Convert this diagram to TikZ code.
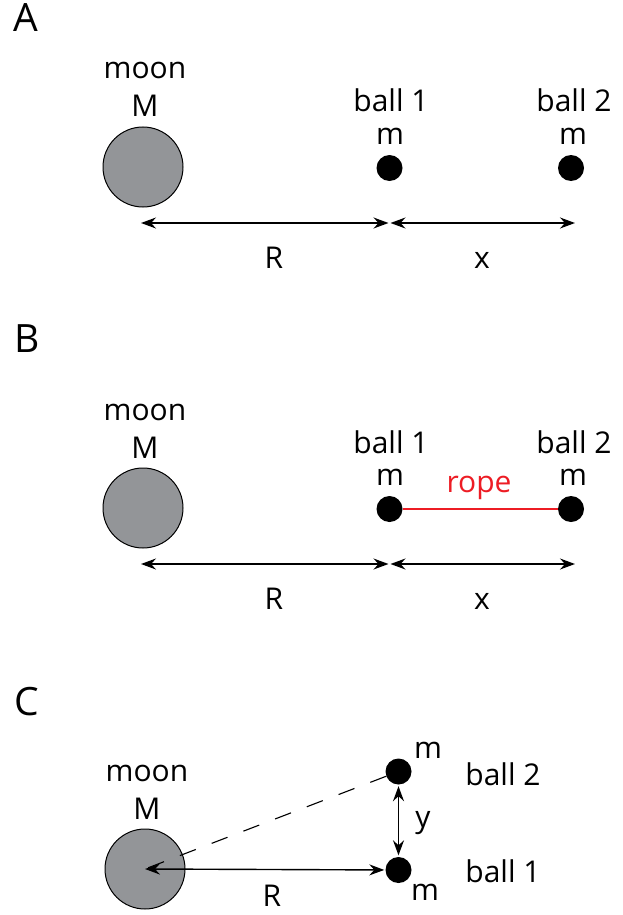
\documentclass[tikz,border=0pt]{standalone}
\usepackage{fontspec}
\setmainfont{Open Sans}
\usetikzlibrary{arrows.meta}
\definecolor{moongray}{RGB}{147,149,152}
\definecolor{ropered}{RGB}{237,28,36}

\begin{document}
\begin{tikzpicture}[x=1pt, y=-1pt,
  moonbody/.style={circle, draw=black, line width=1pt, fill=moongray,
    minimum size=80pt, inner sep=0pt},
  massball/.style={circle, fill=black, minimum size=26pt, inner sep=0pt},
  dimarrow/.style={{Stealth[length=15pt,width=11pt,inset=5pt]}-{Stealth[length=15pt,width=11pt,inset=5pt]},
    line width=1.4pt},
  ropeline/.style={draw=ropered, line width=1.2pt},
  guide/.style={dash pattern=on 17pt off 17pt, line width=1.1pt},
  lbl/.style={font=\fontsize{30}{36}\selectfont, anchor=base, inner sep=0pt},
  panel/.style={font=\fontsize{39}{46}\selectfont, anchor=base west, inner sep=0pt},
]
\useasboundingbox (0,0) rectangle (622,915);

% === Panel A: two free balls ===
\node[panel] (labA) at (13,32) {A};
\node[moonbody] (moonA) at (143,167) {};
\node[massball] (ballA1) at (389.5,168) {};
\node[massball] (ballA2) at (571,168) {};
\node[lbl] (moonA-name) at (145,79) {moon};
\node[lbl] (moonA-mass) at (145,117) {M};
\node[lbl] (ballA1-name) at (391,112) {ball 1};
\node[lbl] (ballA1-mass) at (390,144) {m};
\node[lbl] (ballA2-name) at (574,112) {ball 2};
\node[lbl] (ballA2-mass) at (573,144) {m};

\coordinate (dimA0) at (141,223);
\coordinate (dimA1) at (389.5,223);
\coordinate (dimA2) at (575,223);
\draw[dimarrow, shorten >=1pt] (dimA0) -- (dimA1);
\draw[dimarrow, shorten <=1pt] (dimA1) -- (dimA2);
\node[lbl] (distA-R) at (274,268) {R};
\node[lbl] (distA-x) at (482,268) {x};

% === Panel B: balls tied by a rope ===
\node[panel] (labB) at (14,352) {B};
\node[moonbody] (moonB) at (143,508) {};
\node[massball] (ballB1) at (389.5,509) {};
\node[massball] (ballB2) at (571,509) {};
\node[lbl] (moonB-name) at (145,420) {moon};
\node[lbl] (moonB-mass) at (145,458) {M};
\node[lbl] (ballB1-name) at (391,453) {ball 1};
\node[lbl] (ballB1-mass) at (390,485) {m};
\node[lbl] (ballB2-name) at (574,453) {ball 2};
\node[lbl] (ballB2-mass) at (573,485) {m};

\draw[ropeline] (ballB1) -- (ballB2);
\node[lbl, text=ropered] (ropeB) at (479,492) {rope};

\coordinate (dimB0) at (141,564);
\coordinate (dimB1) at (389.5,564);
\coordinate (dimB2) at (575,564);
\draw[dimarrow, shorten >=1pt] (dimB0) -- (dimB1);
\draw[dimarrow, shorten <=1pt] (dimB1) -- (dimB2);
\node[lbl] (distB-R) at (274,609) {R};
\node[lbl] (distB-x) at (482,609) {x};

% === Panel C: balls stacked across the line ===
\node[panel] (labC) at (14,715) {C};
\node[moonbody] (moonC) at (145,869) {};
\node[massball] (ballC2) at (398.5,771.5) {};
\node[massball] (ballC1) at (398.5,870) {};
\node[lbl] (moonC-name) at (147,781) {moon};
\node[lbl] (moonC-mass) at (147,819) {M};
\node[lbl] (ballC2-mass) at (428,758) {m};
\node[lbl] (ballC2-name) at (503,785) {ball 2};
\node[lbl] (ballC1-name) at (503,882) {ball 1};
\node[lbl] (ballC1-mass) at (425,900) {m};

\draw[guide] (ballC2) -- (moonC.center);
\draw[dimarrow, shorten >=1pt] (moonC.center) -- (ballC1);
\draw[dimarrow, shorten <=1.5pt, shorten >=1.5pt] (ballC2) -- (ballC1);
\node[lbl] (distC-y) at (423,827) {y};
\node[lbl] (distC-R) at (272,906) {R};

\end{tikzpicture}
\end{document}
